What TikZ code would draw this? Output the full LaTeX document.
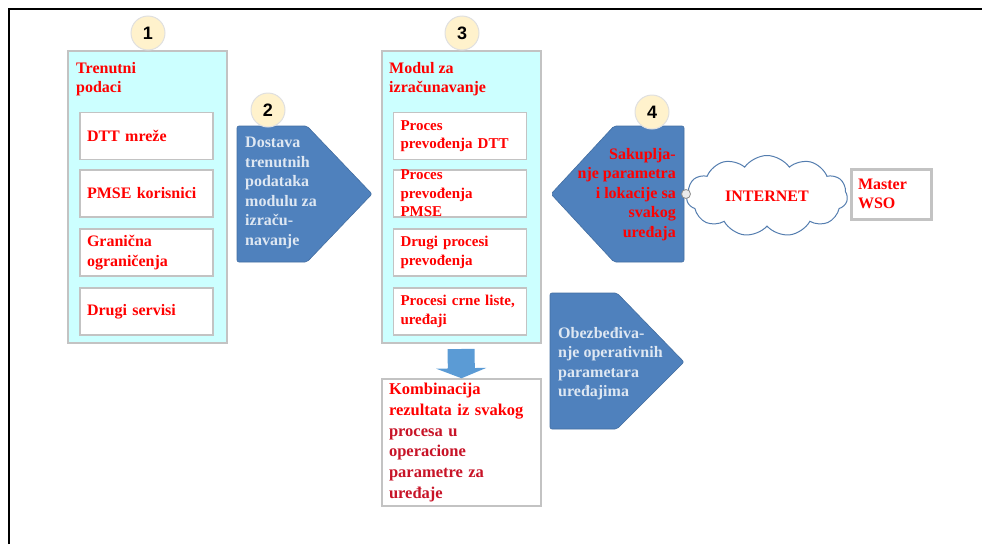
\documentclass[tikz,border=0pt]{standalone}
\usepackage{fontspec}
\setmainfont{Liberation Serif}
\newfontfamily\numfont{Liberation Sans}
\usetikzlibrary{shapes.symbols,arrows.meta}
\definecolor{cyanfill}{RGB}{204,255,255}
\definecolor{edgegray}{RGB}{195,195,195}
\definecolor{shapeblue}{RGB}{79,129,189}
\definecolor{arrowblue}{RGB}{91,155,213}
\definecolor{lighttext}{RGB}{222,231,242}
\definecolor{badgefill}{RGB}{255,242,204}
\definecolor{cloudedge}{RGB}{84,125,175}
\definecolor{darkred}{RGB}{200,20,40}
\newcommand\boxfont{\bfseries\fontsize{16}{19.5}\selectfont}
\newcommand\procfont{\bfseries\fontsize{15}{18.5}\selectfont}
\newcommand\resfont{\bfseries\fontsize{16.5}{20.7}\selectfont}

\begin{document}
\begin{tikzpicture}[x=1pt,y=-1pt]

\tikzstyle{outerbox}=[draw=edgegray,line width=2pt,fill=cyanfill,
  minimum width=159pt,minimum height=292pt,inner sep=0pt]
\tikzstyle{itembox}=[draw=edgegray,line width=1.5pt,fill=white,
  minimum width=133pt,minimum height=47pt,text width=119pt,
  inner xsep=7pt,inner ysep=0pt,align=left,text=red,font=\boxfont]
\tikzstyle{title}=[anchor=north west,align=left,inner sep=0pt,
  text=red,font=\boxfont]
\tikzstyle{badge}=[circle,draw=black!12,line width=1pt,fill=badgefill,
  minimum size=34pt,inner sep=0pt,font=\numfont\bfseries\fontsize{18}{18}\selectfont]
\tikzstyle{bluearrow}=[fill=shapeblue,draw=shapeblue!85!black,
  line width=0.6pt,rounded corners=2pt]

\useasboundingbox (0,0) rectangle (982,544);
\draw[line width=2pt] (9,544) -- (9,9) -- (982,9);

% 1: current data
\node[outerbox] (m1) at (147.5,197) {};
\node[title] (t1) at (76,62) {Trenutni\\podaci};
\node[itembox] (dtt) at (146.5,136) {DTT mreže};
\node[itembox] (pmse) at (146.5,193.5) {PMSE korisnici};
\node[itembox] (gran) at (146.5,252.5) {Granična\\ograničenja};
\node[itembox] (drugi) at (146.5,311.5) {Drugi servisi};
\node[badge] (b1) at (148,33) {1};

% 2: delivery
\fill[bluearrow] (237,126) -- (307,126) -- (372,194) -- (307,262)
  -- (237,262) -- cycle;
\node[title,text=lighttext] (t2) at (245,137)
  {Dostava\\trenutnih\\podataka\\modulu za\\izraču-\\navanje};
\node[badge] (b2) at (268,110) {2};

% 3: calculation module
\node[outerbox] (m3) at (461,197) {};
\node[title] (t3) at (389,62) {Modul za\\izračunavanje};
\node[itembox,font=\procfont] (pdtt) at (460,136) {Proces\\prevođenja DTT};
\node[itembox,font=\procfont] (ppmse) at (460,193.5) {Proces\\prevođenja\\PMSE};
\node[itembox,font=\procfont] (pdrugi) at (460,252.5) {Drugi procesi\\prevođenja};
\node[itembox,font=\procfont] (pcrne) at (460,311.5) {Procesi crne liste,\\uređaji};
\node[badge] (b3) at (462,33) {3};

% combination
\node[draw=edgegray,line width=1.5pt,fill=white,minimum width=159pt,
  minimum height=127pt,text width=145pt,inner xsep=7pt,inner ysep=0pt,
  align=left,text=red,font=\resfont] (res) at (461.5,442.5)
  {Kombinacija\\rezultata iz svakog\\\textcolor{darkred}{procesa u}\\
   \textcolor{darkred}{operacione}\\\textcolor{darkred}{parametre za}\\
   \textcolor{darkred}{uređaje}};
\draw[arrowblue,line width=27pt,-{Triangle[width=50pt,length=10pt]}]
  ([yshift=-5pt]m3.south) -- (res.north);

% 4: collection
\fill[bluearrow] (551,194) -- (614,126) -- (684,126) -- (684,262)
  -- (614,262) -- cycle;
\node[title,anchor=north east,align=right] (t4) at (676,148)
  {Sakuplja-\\nje parametra\\i lokacije sa\\svakog\\uređaja};
\node[badge] (b4) at (652,112) {4};

\node[cloud,cloud puffs=11,cloud puff arc=110,aspect=2,draw=cloudedge,
  line width=1pt,fill=white,minimum width=161pt,minimum height=81pt,
  text=red,font=\boxfont] (net) at (767,196) {INTERNET};
\node[circle,draw=black!45,fill=black!8,line width=0.8pt,
  minimum size=9pt,inner sep=0pt] (plug) at (686,194) {};

\node[draw=edgegray,line width=3pt,fill=white,minimum width=80pt,
  minimum height=50pt,text width=66pt,inner xsep=6pt,align=left,
  text=red,font=\boxfont] (wso) at (891,194) {Master\\WSO};

% 5: provisioning
\fill[bluearrow] (550,293) -- (617,293) -- (684,362) -- (617,429)
  -- (550,429) -- cycle;
\node[title,text=lighttext] (t5) at (558,327)
  {Obezbeđiva-\\nje operativnih\\parametara\\uređajima};

\end{tikzpicture}
\end{document}
